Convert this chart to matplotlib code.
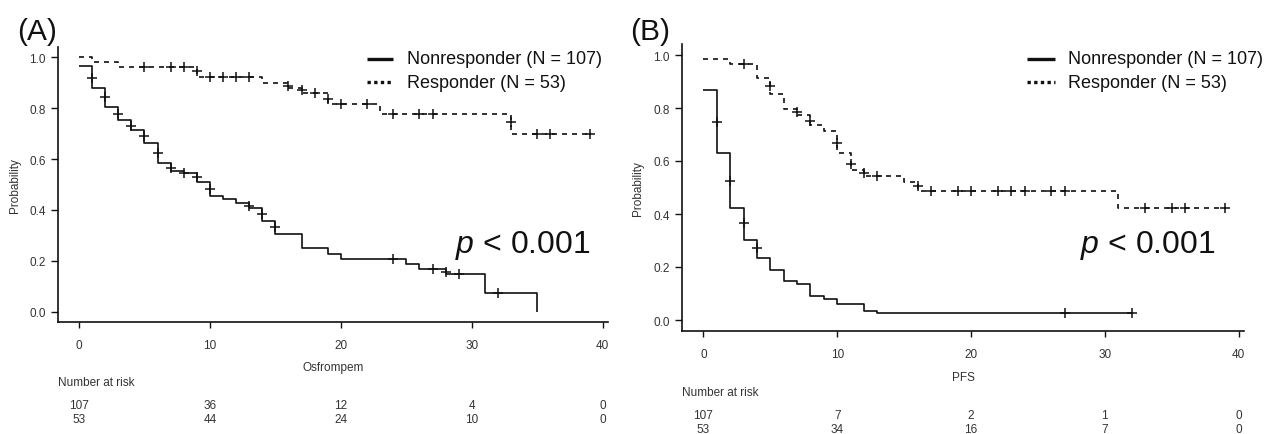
import matplotlib
matplotlib.use('Agg')
import matplotlib.pyplot as plt
from matplotlib.transforms import blended_transform_factory
from matplotlib.lines import Line2D

plt.rcParams['font.family'] = ['Liberation Sans', 'DejaVu Sans']
plt.rcParams['mathtext.fontset'] = 'custom'
plt.rcParams['mathtext.it'] = 'Liberation Sans:italic'
plt.rcParams['mathtext.rm'] = 'Liberation Sans'

# ---------------- data ----------------
legend_labels = ['Nonresponder (N = 107)', 'Responder (N = 53)']
p_text = r'$p$ < 0.001'
xticks = [0, 10, 20, 30, 40]
yticks = [0.0, 0.2, 0.4, 0.6, 0.8, 1.0]

# Panel A (Osfrompem)
a_non_t = [0, 1, 2, 3, 4, 5, 6, 7, 8, 9, 10, 11, 12, 13, 14, 15, 17, 19, 20, 25, 26, 28, 31, 35]
a_non_s = [0.966, 0.878, 0.803, 0.754, 0.714, 0.663, 0.583, 0.554, 0.545, 0.511, 0.456, 0.443,
           0.427, 0.407, 0.358, 0.306, 0.250, 0.227, 0.208, 0.188, 0.169, 0.149, 0.075, 0.0]
a_non_end = 35
a_non_ct = [1, 2, 3, 4, 5, 6, 7, 8, 9, 10, 13, 14, 15, 24, 27, 28, 29, 32]
a_non_cs = [0.920, 0.842, 0.776, 0.731, 0.690, 0.622, 0.566, 0.545, 0.528, 0.482, 0.417, 0.384,
            0.332, 0.208, 0.169, 0.158, 0.149, 0.075]

a_res_t = [0, 1, 3, 9, 14, 16, 17, 19, 23, 33]
a_res_s = [1.0, 0.981, 0.962, 0.922, 0.900, 0.880, 0.858, 0.815, 0.775, 0.700]
a_res_end = 39
a_res_ct = [5, 7, 8, 9, 10, 11, 12, 13, 16, 17, 18, 19, 20, 22, 24, 26, 27, 33, 35, 36, 39]
a_res_cs = [0.962, 0.962, 0.962, 0.945, 0.922, 0.922, 0.922, 0.922, 0.888, 0.870, 0.858, 0.835,
            0.815, 0.815, 0.775, 0.775, 0.775, 0.745, 0.700, 0.700, 0.700]

a_xlabel = 'Osfrompem'
a_risk_non = ['107', '36', '12', '4', '0']
a_risk_res = ['53', '44', '24', '10', '0']

# Panel B (PFS)
b_non_t = [0, 1, 2, 3, 4, 5, 6, 7, 8, 9, 10, 12, 13]
b_non_s = [0.869, 0.630, 0.421, 0.303, 0.234, 0.190, 0.148, 0.136, 0.092, 0.079, 0.059, 0.035, 0.025]
b_non_end = 32
b_non_ct = [1, 2, 3, 4, 27, 32]
b_non_cs = [0.748, 0.526, 0.365, 0.270, 0.025, 0.025]

b_res_t = [0, 2, 4, 5, 6, 7, 8, 9, 10, 11, 12, 15, 16, 31]
b_res_s = [0.985, 0.966, 0.912, 0.853, 0.796, 0.775, 0.735, 0.714, 0.630, 0.566, 0.545, 0.520, 0.487, 0.421]
b_res_end = 39
b_res_ct = [3, 5, 7, 8, 10, 11, 12, 13, 16, 17, 19, 20, 22, 23, 24, 26, 27, 33, 35, 36, 39]
b_res_cs = [0.966, 0.884, 0.785, 0.752, 0.668, 0.590, 0.555, 0.545, 0.505, 0.487, 0.487, 0.487,
            0.487, 0.487, 0.487, 0.487, 0.487, 0.421, 0.421, 0.421, 0.421]

b_xlabel = 'PFS'
b_risk_non = ['107', '7', '2', '1', '0']
b_risk_res = ['53', '34', '16', '7', '0']

# ---------------- figure ----------------
W, H = 1266, 435
fig = plt.figure(figsize=(W / 100, H / 100), dpi=100)
INK = '#111111'
GREY = '#333333'


def fx(x):
    return x / W


def fy(y):
    return 1 - y / H


def make_axes(l, t, r, b):
    return fig.add_axes([fx(l), fy(b), (r - l) / W, (b - t) / H])


def km(ax, t, s, end, ct, cs, ls):
    tt = list(t) + [end]
    ss = list(s) + [s[-1]]
    ax.step(tt, ss, where='post', color=INK, lw=1.2, ls=ls, solid_capstyle='butt')
    ax.plot(ct, cs, ls='none', marker='+', ms=7.5, mew=1.1, color=INK)


def panel(box, curves, xlabel, xlabel_y, risk_title_y, risk1_y, risk2_y, risk_non, risk_res,
          letter, letter_x, legend_x, p_x, ylabel_x):
    l, t, r, b = box
    ax = make_axes(l, t, r, b)
    for c in curves:
        km(ax, *c)
    ax.set_xlim(-1.6, 40.4)
    ax.set_ylim(-0.04, 1.04)
    ax.set_xticks(xticks)
    ax.set_xticklabels([str(v) for v in xticks])
    ax.set_yticks(yticks)
    ax.set_yticklabels(['%.1f' % v for v in yticks])
    for side in ('top', 'right'):
        ax.spines[side].set_visible(False)
    for side in ('left', 'bottom'):
        ax.spines[side].set_linewidth(1.2)
        ax.spines[side].set_color(INK)
    ax.tick_params(axis='y', direction='out', length=5, width=1, pad=4,
                   labelsize=8.5, labelcolor=GREY, color=INK)
    ax.tick_params(axis='x', direction='out', length=4.5, width=1, pad=8,
                   labelsize=8.5, labelcolor=GREY, color=INK)

    trans = blended_transform_factory(ax.transData, fig.transFigure)
    fig.text(fx((l + r) / 2), fy(xlabel_y), xlabel, ha='center', va='center',
             fontsize=8.5, color=GREY)
    fig.text(fx(l), fy(risk_title_y), 'Number at risk', ha='left', va='center',
             fontsize=8.5, color=GREY)
    for xv, n1, n2 in zip(xticks, risk_non, risk_res):
        ax.text(xv, fy(risk1_y), n1, transform=trans, ha='center', va='center',
                fontsize=8.5, color=GREY, clip_on=False)
        ax.text(xv, fy(risk2_y), n2, transform=trans, ha='center', va='center',
                fontsize=8.5, color=GREY, clip_on=False)
    fig.text(fx(ylabel_x), fy((t + b) / 2), 'Probability', rotation=90, ha='center',
             va='center', fontsize=8.5, color=GREY)

    # panel letter
    fig.text(fx(letter_x), fy(32), letter, ha='left', va='center', fontsize=21.5, color=INK)

    # legend
    hx0, hx1, tx = legend_x
    for yy, ls, lab in [(60, '-', legend_labels[0]), (83, (0, (1, 1)), legend_labels[1])]:
        fig.add_artist(Line2D([fx(hx0), fx(hx1)], [fy(yy), fy(yy)], transform=fig.transFigure,
                              color=INK, lw=2.4, ls=ls, solid_capstyle='butt',
                              dash_capstyle='butt'))
        fig.text(fx(tx), fy(yy), lab, ha='left', va='center', fontsize=13, color=INK)

    # p value
    fig.text(fx(p_x), fy(253), p_text, ha='left', va='baseline', fontsize=23, color=INK)
    return ax


dash = (0, (3, 3))
panel((58, 48, 608, 323),
      [(a_non_t, a_non_s, a_non_end, a_non_ct, a_non_cs, '-'),
       (a_res_t, a_res_s, a_res_end, a_res_ct, a_res_cs, dash)],
      a_xlabel, 368, 383, 406, 420, a_risk_non, a_risk_res,
      '(A)', 17, (367, 393, 407), 455, 15)

panel((682, 45.4, 1244, 331.6),
      [(b_non_t, b_non_s, b_non_end, b_non_ct, b_non_cs, '-'),
       (b_res_t, b_res_s, b_res_end, b_res_ct, b_res_cs, dash)],
      b_xlabel, 378, 393, 416, 430, b_risk_non, b_risk_res,
      '(B)', 630, (1027, 1055, 1068), 1080, 638)

fig.savefig('out.png', dpi=100)
